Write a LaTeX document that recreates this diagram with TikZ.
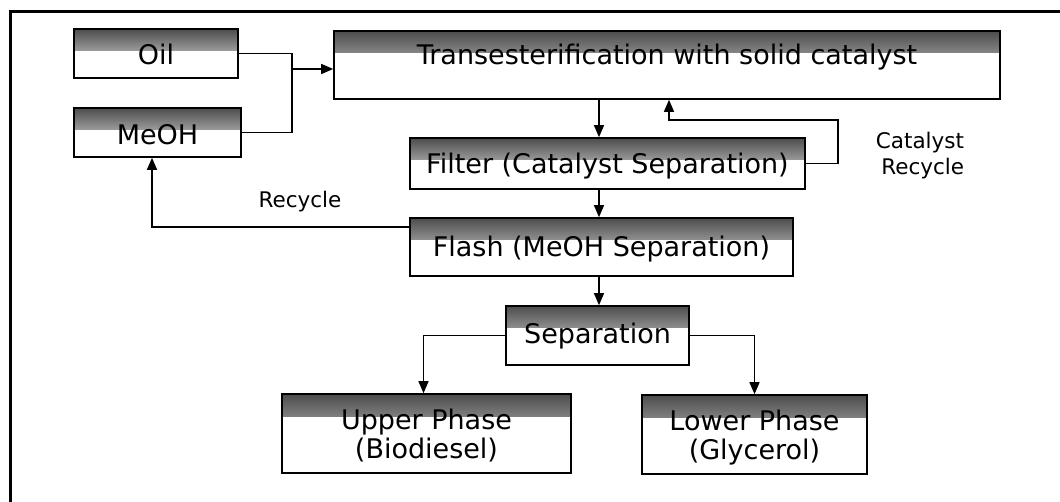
\documentclass[tikz,border=0pt]{standalone}
\usepackage{fontspec}
\setmainfont{DejaVu Sans}
\usetikzlibrary{arrows.meta,calc}
\tikzset{
  box/.style={draw=black, line width=1.6pt, fill=white, inner sep=0pt,
    path picture={\shade[top color=black!70, middle color=black!22, bottom color=white]
      (path picture bounding box.north west) rectangle ([yshift=-22pt]path picture bounding box.north east);}},
  btxt/.style={font=\fontsize{27}{31}\selectfont, inner sep=0pt},
  arr/.style={line width=1.4pt, -{Triangle[length=12pt,width=10pt]}},
  wire/.style={line width=1.4pt},
  lbl/.style={font=\fontsize{21.5}{26}\selectfont, inner sep=0pt}
}
\begin{document}
\begin{tikzpicture}[x=1pt,y=-1pt]
\useasboundingbox (0,0) rectangle (1060,502);
\draw[line width=3pt] (10,502) -- (10,12) -- (1060,12);

\node[box, minimum width=164pt, minimum height=49pt] (oil) at (156,53.5) {};
\node[btxt] (toil) at ([yshift=-1pt]oil.center) {Oil};
\node[box, minimum width=167pt, minimum height=49pt] (meoh) at (157.5,132.5) {};
\node[btxt] (tmeoh) at ([yshift=-2pt]meoh.center) {MeOH};
\node[box, minimum width=666pt, minimum height=68pt] (trans) at (667,65) {};
\node[btxt] (ttrans) at ([yshift=8pt]trans.center) {Transesterification with solid catalyst};
\node[box, minimum width=395pt, minimum height=51pt] (filter) at (607.5,163.5) {};
\node[btxt] (tfilter) at ([yshift=-3pt]filter.center) {Filter (Catalyst Separation)};
\node[box, minimum width=383pt, minimum height=58pt] (flash) at (601.5,247) {};
\node[btxt] (tflash) at ([yshift=-2pt]flash.center) {Flash (MeOH Separation)};
\node[box, minimum width=183pt, minimum height=59pt] (sep) at (597.5,335.5) {};
\node[btxt] (tsep) at ([yshift=-1pt]sep.center) {Separation};
\node[box, minimum width=289pt, minimum height=79pt] (upper) at (426.5,433.5) {};
\node[btxt, font=\fontsize{27}{29}\selectfont, align=center] (tupper) at ([yshift=-2pt]upper.center) {Upper Phase\\(Biodiesel)};
\node[box, minimum width=225pt, minimum height=79pt] (lower) at (754.5,434.5) {};
\node[btxt, font=\fontsize{27}{29}\selectfont, align=center] (tlower) at ([yshift=-3pt]lower.center) {Lower Phase\\(Glycerol)};

\coordinate (j) at (292,69);
\coordinate (spine) at (599,0);
\coordinate (cr) at (838,120);
\coordinate (rc) at (152,227);

\draw[wire] (oil.east) -| (j) |- (meoh.east);
\draw[arr] (j) -- (j -| trans.west);
\draw[arr] (trans.south -| spine) -- (filter.north -| spine);
\draw[arr] (filter.east) -| (cr) -| ([xshift=2pt]trans.south);
\draw[arr] (filter.south -| spine) -- (flash.north -| spine);
\draw[arr] (flash.west |- rc) -- (rc) -- (meoh.south -| rc);
\draw[arr] (flash.south -| spine) -- (sep.north -| spine);
\draw[arr] (sep.west) -| ([xshift=-3pt]upper.north);
\draw[arr] (sep.east) -| (lower.north);

\node[lbl] (lrec) at (300,202) {Recycle};
\node[lbl, align=right] (lcat) at (920,156) {Catalyst\\Recycle};
\end{tikzpicture}
\end{document}
